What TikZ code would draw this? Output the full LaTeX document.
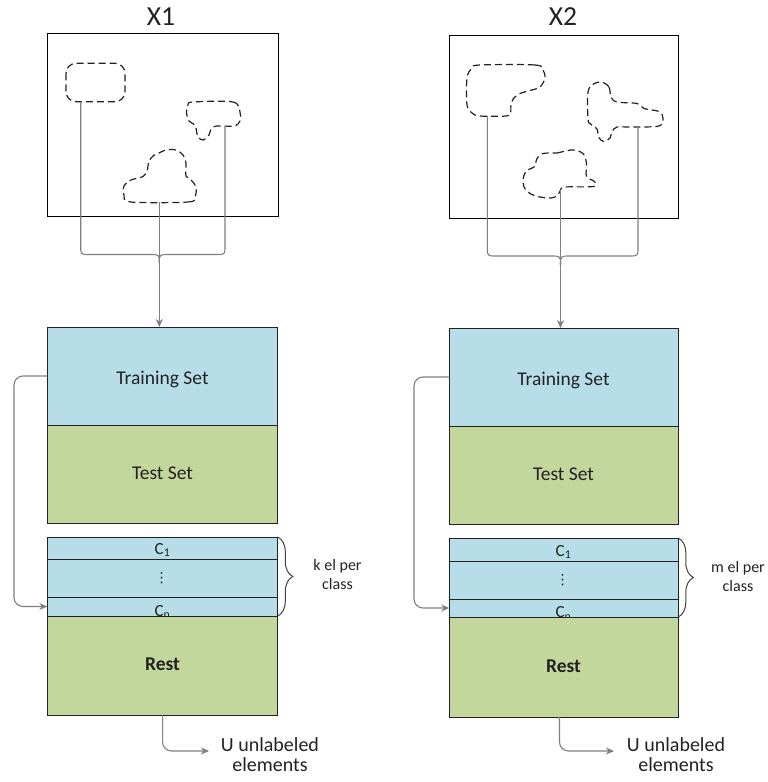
\documentclass[tikz,border=0pt]{standalone}
\usepackage{fontspec}
\setmainfont{Carlito}
\newfontfamily\symfont{DejaVu Sans}
\usetikzlibrary{arrows.meta,decorations.pathreplacing,calc}
\definecolor{tblue}{HTML}{B7DEE8}
\definecolor{tgreen}{HTML}{C3D69B}
\definecolor{conncol}{HTML}{7F7F7F}
\definecolor{ink}{HTML}{222222}
\definecolor{bracecol}{HTML}{404040}
\tikzset{
  conn/.style={draw=conncol, line width=1.1pt},
  tip/.style={-{Stealth[length=8pt,width=7pt,inset=2.5pt]}},
  region/.style={draw=ink, line width=1.2pt, dash pattern=on 7pt off 4pt, line join=round},
  frame/.style={draw=black, line width=1pt},
  setbox/.style={draw=ink, line width=1pt, inner sep=0pt, outer sep=0pt, anchor=north west},
  bluebox/.style={setbox, fill=tblue},
  greenbox/.style={setbox, fill=tgreen},
  boxtext/.style={text=ink, inner sep=0pt, anchor=base, font=\fontsize{19.5}{23}\selectfont},
  ctext/.style={text=ink, inner sep=0pt, anchor=base, font=\fontsize{17}{20}\selectfont},
  dotstext/.style={text=ink, inner sep=0pt, font=\symfont\fontsize{14}{16}\selectfont},
  title/.style={text=ink, inner sep=0pt, anchor=base, font=\fontsize{27.5}{32}\selectfont},
  sidetext/.style={text=ink, inner sep=0pt, align=center, font=\fontsize{16}{19}\selectfont},
  utext/.style={text=ink, inner sep=0pt, align=center, font=\fontsize{20}{20}\selectfont},
  bracedeco/.style={draw=bracecol, line width=1pt, decorate, decoration={brace, amplitude=15pt, aspect=0.5}},
}
\begin{document}
\begin{tikzpicture}[x=1pt,y=-1pt]
\useasboundingbox (0,0) rectangle (768,782);

% ---------------- Left panel ----------------
\node[title] (x1) at (161,25) {X1};
\node[frame, inner sep=0pt, minimum width=230.5pt, minimum height=182.5pt, anchor=north west] (imgL) at (47.3,33.3) {};

\draw[region, rounded corners=10pt] (66,63.3) rectangle (125,101.7);
\draw[region] plot[smooth cycle, tension=0.55] coordinates {
  (193,102) (233,102) (240,112) (240,121) (234,126) (217,126) (211,129) (209,135)
  (203,140) (198,137) (196.5,131) (195,125) (189,121) (186.5,113) (188,105)};
\draw[region] plot[smooth cycle, tension=0.55] coordinates {
  (131,202) (188,202) (195,197) (196,187) (191.5,180.5) (186,176) (186,163) (183,155)
  (176,150) (166,150) (159,153) (153.5,155.5) (148.5,162) (147.5,170) (143,176.5)
  (131,180) (124,186) (124,195)};

\coordinate (sL1) at (80.7,101.7);
\coordinate (sL2) at (225,126);
\coordinate (sL3) at (159.3,202);
\coordinate (cuspL) at (159.3,263);

% boxes
\node[bluebox, minimum width=230.5pt, minimum height=98pt] (trainL) at (47.3,327) {};
\node[greenbox, minimum width=230.5pt, minimum height=98pt] (testL) at (47.3,425) {};
\node[bluebox, minimum width=230.5pt, minimum height=22pt] (c1L) at (47.3,537) {};
\node[bluebox, minimum width=230.5pt, minimum height=38pt] (dotsL) at (47.3,559) {};
\node[bluebox, minimum width=230.5pt, minimum height=19pt] (cnL) at (47.3,597) {};
\node[ctext] (cnLt) at (162.5,616) {C\textsubscript{n}};
\node[greenbox, minimum width=230.5pt, minimum height=99pt] (restL) at (47.3,616) {};

\node[boxtext] (trainLt) at (162.5,384) {Training Set};
\node[boxtext] (testLt) at (162.5,479) {Test Set};
\node[ctext] (c1Lt) at (162.5,554) {C\textsubscript{1}};
\node[dotstext] (dotsLt) at (161.7,578.5) {⋮};
\node[boxtext, font=\fontsize{19.5}{23}\selectfont\bfseries] (restLt) at (162.5,670) {Rest};

% brace from regions
\draw[conn] (sL1) -- (80.7,246) .. controls (80.7,254.5) .. (89,254.5) -- (150,254.5) .. controls (159.3,254.5) .. (cuspL);
\draw[conn] (sL2) -- (225,246) .. controls (225,254.5) .. (217,254.5) -- (168.6,254.5) .. controls (159.3,254.5) .. (cuspL);
\draw[conn, tip] (sL3) -- (sL3 |- trainL.north);

% loop from training set to classes
\coordinate (lpL) at (14,500);
\draw[conn, tip, rounded corners=9pt] (trainL.west) -| (lpL) |- (cnL.west);

% class brace
\draw[bracedeco] (c1L.north east) -- (cnL.south east);
\node[sidetext] (kL) at (337.5,574) {k el per\\class};

% unlabeled
\coordinate (uLend) at (209,751);
\draw[conn, tip, rounded corners=9pt] (restL.south) |- (uLend);
\node[utext] (uL) at (270,755) {U unlabeled\\elements};

% ---------------- Right panel ----------------
\node[title] (x2) at (563,25) {X2};
\node[frame, inner sep=0pt, minimum width=229pt, minimum height=183pt, anchor=north west] (imgR) at (449.3,35) {};

\draw[region] plot[smooth cycle, tension=0.55] coordinates {
  (480,65) (535,65) (543,70) (545,78) (540,87) (530,90.5) (520,93.5) (513.5,98.5)
  (511,105) (510.5,113) (506,116) (480,116) (472,113) (467,105) (467,78) (472,68)};
\draw[region] plot[smooth cycle, tension=0.55] coordinates {
  (601.5,82) (609,87) (611,97) (617,102) (637,103.5) (644,108.5) (659,111.5) (663,118)
  (659,126) (630,127) (617,127) (612,131.5) (610,138) (603.5,141.5) (598.5,137)
  (597,129) (590.5,124) (588,119) (588,92) (593.5,84)};
\draw[region] plot[smooth cycle, tension=0.55] coordinates {
  (543,153.5) (557,153) (563.5,151.5) (573,150) (583,153.5) (586.5,163) (586.5,176.5)
  (594.5,181.5) (593.5,186.5) (565,187) (560.5,190) (558,195) (551.5,198) (540,197)
  (530,193.5) (524,187) (523.5,177) (527,170.5) (534.5,166.5) (537,158.5)};

\coordinate (sR1) at (487.3,116);
\coordinate (sR2) at (638,127);
\coordinate (sR3) at (560.5,190);
\coordinate (cuspR) at (560.5,265);

\node[bluebox, minimum width=229pt, minimum height=98pt] (trainR) at (449.3,328) {};
\node[greenbox, minimum width=229pt, minimum height=98pt] (testR) at (449.3,426) {};
\node[bluebox, minimum width=229pt, minimum height=23pt] (c1R) at (449.3,538) {};
\node[bluebox, minimum width=229pt, minimum height=38pt] (dotsR) at (449.3,561) {};
\node[bluebox, minimum width=229pt, minimum height=18pt] (cnR) at (449.3,599) {};
\node[ctext] (cnRt) at (563.5,617.5) {C\textsubscript{n}};
\node[greenbox, minimum width=229pt, minimum height=100pt] (restR) at (449.3,617) {};

\node[boxtext] (trainRt) at (563.5,385) {Training Set};
\node[boxtext] (testRt) at (563.5,480) {Test Set};
\node[ctext] (c1Rt) at (563.5,556) {C\textsubscript{1}};
\node[dotstext] (dotsRt) at (562.5,580.5) {⋮};
\node[boxtext, font=\fontsize{19.5}{23}\selectfont\bfseries] (restRt) at (563.5,672) {Rest};

\draw[conn] (sR1) -- (487.3,247) .. controls (487.3,256) .. (496,256) -- (551,256) .. controls (560.5,256) .. (cuspR);
\draw[conn] (sR2) -- (638,247) .. controls (638,256) .. (629,256) -- (570,256) .. controls (560.5,256) .. (cuspR);
\draw[conn, tip] (sR3) -- (sR3 |- trainR.north);

\coordinate (lpR) at (414,500);
\draw[conn, tip, rounded corners=9pt] (trainR.west) -| (lpR) |- (cnR.west);

\draw[bracedeco] (c1R.north east) -- (cnR.south east);
\node[sidetext] (kR) at (738,576) {m el per\\class};

\coordinate (bRx) at (559.5,751);
\coordinate (uRend) at (614,751);
\draw[conn, tip, rounded corners=9pt] (restR.south -| bRx) |- (uRend);
\node[utext] (uR) at (676,755) {U unlabeled\\elements};
\end{tikzpicture}
\end{document}
